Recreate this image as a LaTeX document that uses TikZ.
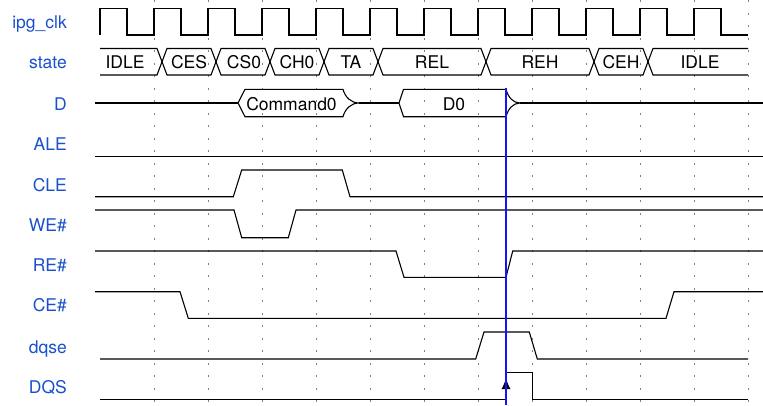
\documentclass[tikz,border=0pt]{standalone}
\usepackage{fontspec}
\setmainfont{TeX Gyre Heros}
\usepackage{xcolor}
\usepackage{tikz}
\usetikzlibrary{arrows.meta}
\definecolor{labelblue}{RGB}{25,80,205}
\definecolor{cursorblue}{RGB}{20,20,250}

\begin{document}
\begin{tikzpicture}[
    x=1pt, y=-1pt,
    lbl/.style={anchor=base east, inner sep=0pt, text=labelblue, font=\fontsize{17.5}{20}\selectfont},
    val/.style={anchor=base, inner sep=0pt, font=\fontsize{17.5}{20}\selectfont},
    sig/.style={line width=1.1pt, line join=miter},
    gridline/.style={gray, line width=0.8pt, dash pattern=on 2pt off 10.5pt},
    cursor/.style={cursorblue, line width=1.6pt},
    edge_arrow/.style={line width=1.1pt, -{Latex[length=11pt,width=9pt]}}
]
\useasboundingbox (0,0) rectangle (763,405);

% Clock grid
\foreach \x in {154,208,...,748}
    \draw[gridline] (\x,0) -- (\x,405);

% Signal names
\node[lbl] (nclk) at (67,28.5) {ipg\_clk};
\node[lbl] (nstate) at (67,68.5) {state};
\node[lbl] (nd) at (67,110) {D};
\node[lbl] (nale) at (67,150.7) {ALE};
\node[lbl] (ncle) at (67,191.5) {CLE};
\node[lbl] (nwe) at (67,231.7) {WE\#};
\node[lbl] (nre) at (67,271.5) {RE\#};
\node[lbl] (nce) at (67,311.3) {CE\#};
\node[lbl] (ndqse) at (67,353) {dqse};
\node[lbl] (ndqs) at (67,393.3) {DQS};

% Clock
\draw[sig] (100,35) \foreach \x in {100,154,...,694} { -- (\x,35) -- (\x,8.3) -- (\x+27,8.3) -- (\x+27,35) } -- (748,35);

% State bus
\draw[sig] (100,48.5) -- (157,48.5) -- (167,75) -- (211,75) -- (221,48.5) -- (265,48.5) -- (275,75) -- (319,75) -- (329,48.5) -- (373,48.5) -- (383,75) -- (481,75) -- (491,48.5) -- (589,48.5) -- (599,75) -- (643,75) -- (653,48.5) -- (748,48.5);
\draw[sig] (100,75) -- (157,75) -- (167,48.5) -- (211,48.5) -- (221,75) -- (265,75) -- (275,48.5) -- (319,48.5) -- (329,75) -- (373,75) -- (383,48.5) -- (481,48.5) -- (491,75) -- (589,75) -- (599,48.5) -- (643,48.5) -- (653,75) -- (748,75);
\node[val] (sidle) at (125,68.3) {IDLE};
\node[val] (sces) at (189,68.3) {CES};
\node[val] (scs) at (244,68.3) {CS0};
\node[val] (sch) at (297,68.3) {CH0};
\node[val] (sta) at (351,68.3) {TA};
\node[val] (srel) at (432,68.3) {REL};
\node[val] (sreh) at (540,68.3) {REH};
\node[val] (sceh) at (621,68.3) {CEH};
\node[val] (sidle2) at (700,68.3) {IDLE};

% Data bus
\draw[sig] (95,103) -- (238,103);
\draw[sig] (238,103) -- (245,89.3) -- (343,89.3) .. controls (345,97) and (351,103) .. (359,103) .. controls (351,103) and (345,109) .. (343,116.7) -- (245,116.7) -- cycle;
\draw[sig] (359,103) -- (399,103);
\draw[sig] (399,103) -- (403.5,89.3) -- (506,89.3) .. controls (508,97) and (513,103) .. (520,103) .. controls (513,103) and (508,109) .. (506,116.7) -- (403.5,116.7) -- cycle;
\draw[sig] (520,103) -- (763,103);
\node[val] (dcmd) at (291.5,110) {Command0};
\node[val] (ddata) at (454,110) {D0};

% Control lines
\draw[sig] (95,156.7) -- (763,156.7);
\draw[sig] (95,196.7) -- (233.3,196.7) -- (241.7,170) -- (342.3,170) -- (350,196.7) -- (763,196.7);
\draw[sig] (95,210) -- (234,210) -- (241.7,237.7) -- (288.3,237.7) -- (296,210) -- (763,210);
\draw[sig] (95,251) -- (396,251) -- (404,277.3) -- (506,277.3) -- (512.7,251) -- (763,251);
\draw[sig] (95,291.7) -- (180,291.7) -- (188.3,318.3) -- (666,318.3) -- (674,291.7) -- (763,291.7);
\draw[sig] (100,359) -- (475.7,359) -- (484,332) -- (529.3,332) -- (537.3,359) -- (748,359);
\draw[sig] (100,399.3) -- (506,399.3) -- (506,372.7) -- (532.7,372.7) -- (532.7,399.3) -- (748,399.3);
\draw[edge_arrow] (506,399.3) -- (506,378);

% Cursor
\draw[cursor] (506,88) -- (506,405);

\end{tikzpicture}
\end{document}
